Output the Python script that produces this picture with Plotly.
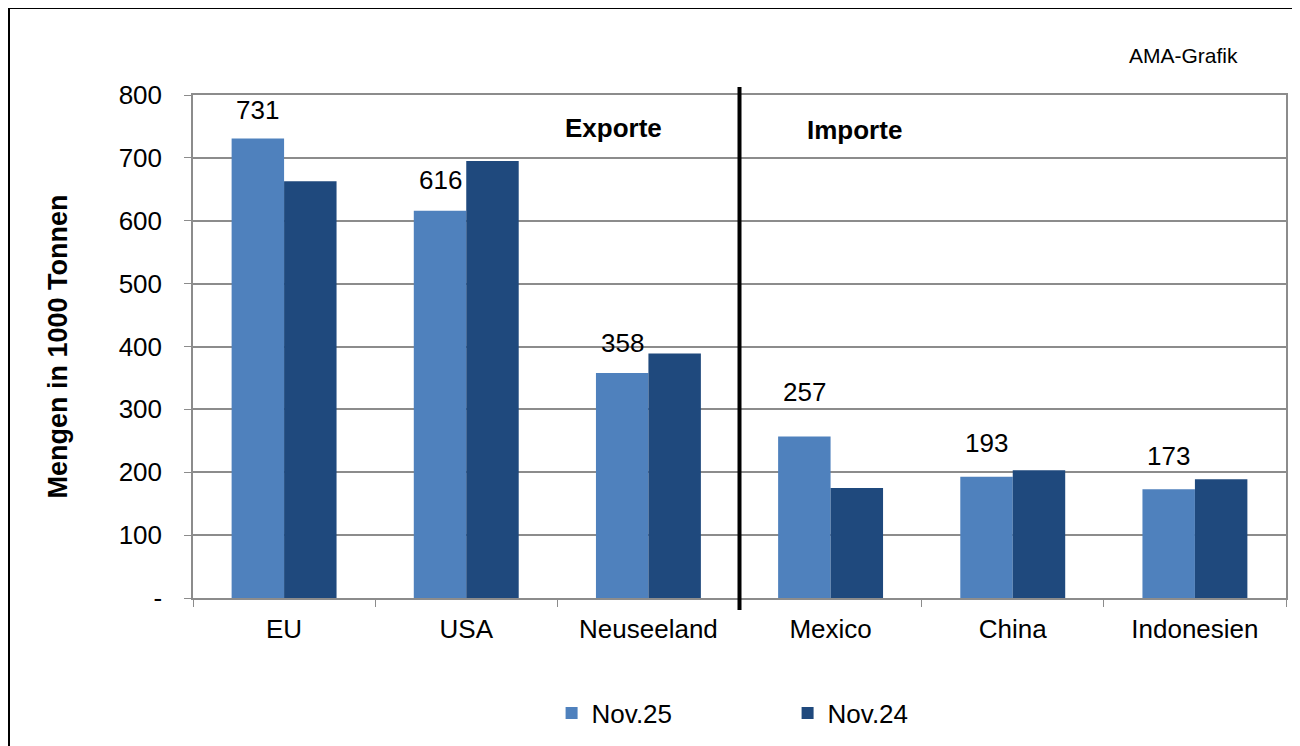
import plotly.graph_objects as go

categories = ["EU", "USA", "Neuseeland", "Mexico", "China", "Indonesien"]
nov25 = [731, 616, 358, 257, 193, 173]
nov24 = [663, 695, 389, 175, 203, 189]
series_names = ["Nov.25", "Nov.24"]
y_tickvals = [0, 100, 200, 300, 400, 500, 600, 700, 800]
y_ticktext = ["-", "100", "200", "300", "400", "500", "600", "700", "800"]
label_shifts = [28, 31, 30, 44, 34, 33]

C_LIGHT = "#4F81BD"
C_DARK = "#1F497D"
GRID = "#8C8C8C"
FONT = "Liberation Sans, Arial, sans-serif"
BARGAP = 0.424

# page has an 8px body margin; figure is sized so that it fills the window
OFF = 8
W, H = 1300 - OFF, 746 - OFF
L, R, T, B = 193, 1286, 95, 598   # plot area in screen pixels


def px_x(p):
    return (p - L) / (R - L)


def px_y(p):
    return (B - p) / (B - T)


fig = go.Figure()
fig.add_trace(go.Bar(x=categories, y=nov25, name=series_names[0],
                     marker=dict(color=C_LIGHT, line=dict(width=0))))
fig.add_trace(go.Bar(x=categories, y=nov24, name=series_names[1],
                     marker=dict(color=C_DARK, line=dict(width=0))))

offset = (1 - BARGAP) / 4
for i, (v, s) in enumerate(zip(nov25, label_shifts)):
    fig.add_annotation(x=i - offset, y=v, xref="x", yref="y", text=str(v),
                       showarrow=False, yshift=s, yanchor="middle",
                       font=dict(size=26, color="#000000", family=FONT))

fig.add_annotation(x=1.81, y=747, xref="x", yref="y", text="<b>Exporte</b>",
                   showarrow=False, font=dict(size=26, color="#000", family=FONT))
fig.add_annotation(x=3.13, y=744, xref="x", yref="y", text="<b>Importe</b>",
                   showarrow=False, font=dict(size=26, color="#000", family=FONT))
fig.add_annotation(x=px_x(1183), y=px_y(55), xref="paper", yref="paper",
                   xanchor="center", yanchor="middle", text="AMA-Grafik",
                   showarrow=False, font=dict(size=21, color="#000", family=FONT))

# divider between exports and imports
fig.add_shape(type="line", xref="x", yref="paper", x0=2.5, x1=2.5,
              y0=px_y(610), y1=px_y(87), line=dict(color="#000000", width=4))

# outer frame
fig.add_shape(type="rect", xref="paper", yref="paper",
              x0=px_x(9), x1=px_x(1320), y0=px_y(780), y1=px_y(8),
              line=dict(color="#000000", width=2), fillcolor="rgba(0,0,0,0)")

fig.update_layout(
    width=W, height=H,
    margin=dict(l=L - OFF, r=(W + OFF) - R, t=T - OFF, b=(H + OFF) - B, pad=0, autoexpand=False),
    paper_bgcolor="#FFFFFF", plot_bgcolor="#FFFFFF",
    barmode="group", bargap=BARGAP, bargroupgap=0,
    font=dict(family=FONT, size=26, color="#000000"),
    showlegend=True,
    legend=dict(orientation="h", x=0.544, xanchor="center", y=px_y(713), yanchor="middle",
                font=dict(size=26, family=FONT), entrywidth=191, traceorder="normal",
                bgcolor="rgba(0,0,0,0)"),
    xaxis=dict(showgrid=False, showline=True, linecolor=GRID, linewidth=1.5, mirror=True,
               ticks="outside", tickson="boundaries", ticklen=7, tickcolor=GRID,
               ticklabelstandoff=7,
               tickfont=dict(size=26, family=FONT)),
    yaxis=dict(range=[0, 800], tickvals=y_tickvals, ticktext=y_ticktext,
               showgrid=True, gridcolor=GRID, gridwidth=1.5,
               showline=True, linecolor=GRID, linewidth=1.5, mirror=True,
               ticks="outside", ticklen=7, tickcolor=GRID, zeroline=False,
               ticklabelstandoff=17,
               tickfont=dict(size=26, family=FONT),
               title=dict(text="<b>Mengen in 1000 Tonnen</b>", font=dict(size=27, family=FONT),
                          standoff=43)),
)

fig.write_html("out.html")
